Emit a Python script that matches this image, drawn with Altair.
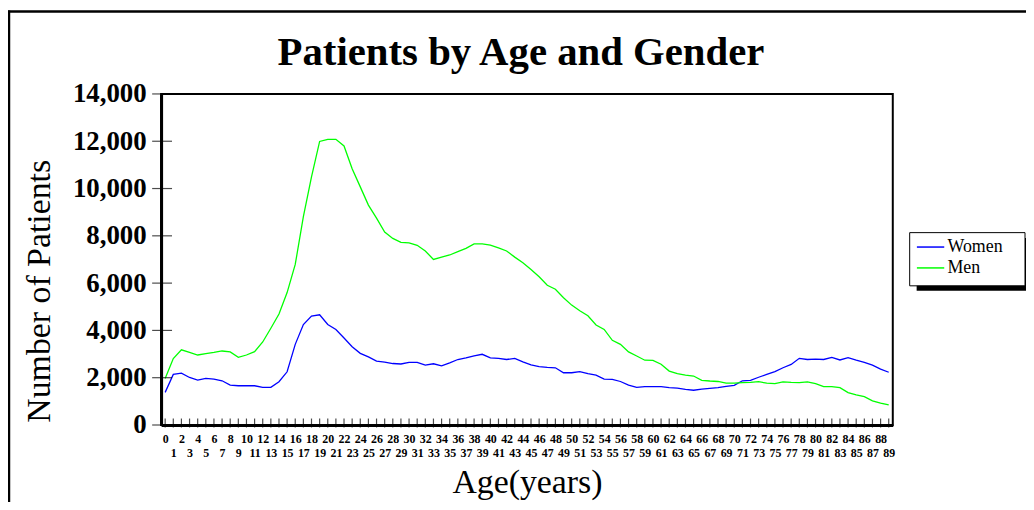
import altair as alt
import pandas as pd

ages = list(range(90))
women = [
    1380, 2140, 2190, 2010, 1900, 1970, 1940, 1870, 1690, 1660,
    1660, 1660, 1590, 1590, 1830, 2250, 3410, 4250, 4610, 4660,
    4250, 4040, 3680, 3310, 3030, 2880, 2700, 2660, 2600, 2580,
    2650, 2650, 2530, 2590, 2500, 2630, 2770, 2840, 2920, 2990,
    2840, 2820, 2770, 2820, 2670, 2540, 2470, 2440, 2420, 2210,
    2210, 2260, 2170, 2110, 1940, 1930, 1840, 1690, 1590, 1620,
    1620, 1620, 1580, 1560, 1510, 1470, 1520, 1550, 1580, 1630,
    1680, 1870, 1890, 2020, 2140, 2260, 2420, 2560, 2820, 2770,
    2790, 2770, 2860, 2750, 2850, 2740, 2650, 2530, 2360, 2230,
]
men = [
    1970, 2810, 3180, 3070, 2960, 3020, 3070, 3130, 3090, 2860,
    2960, 3100, 3510, 4090, 4690, 5600, 6790, 8810, 10490, 11990,
    12080, 12080, 11800, 10840, 10070, 9300, 8750, 8160, 7890, 7720,
    7700, 7600, 7360, 7000, 7100, 7190, 7330, 7470, 7660, 7660,
    7610, 7490, 7360, 7100, 6860, 6580, 6270, 5910, 5740, 5380,
    5070, 4830, 4620, 4230, 4040, 3580, 3410, 3090, 2920, 2740,
    2730, 2570, 2280, 2170, 2110, 2070, 1890, 1860, 1840, 1770,
    1770, 1790, 1800, 1830, 1770, 1750, 1820, 1800, 1790, 1820,
    1750, 1620, 1620, 1580, 1370, 1270, 1200, 1020, 920, 850,
]
series_names = ["Women", "Men"]
series_colors = ["#0000ff", "#00ff00"]
y_ticks = [0, 2000, 4000, 6000, 8000, 10000, 12000, 14000]
chart_title = "Patients by Age and Gender"
x_title = "Age(years)"
y_title = "Number of Patients"

W, H = 736, 333
SERIF = "Liberation Serif"

rows = []
for a, w, m in zip(ages, women, men):
    rows.append({"age": a, "gender": "Women", "count": w})
    rows.append({"age": a, "gender": "Men", "count": m})
df = pd.DataFrame(rows)
age_df = pd.DataFrame({"age": ages})
ytick_df = pd.DataFrame({"count": y_ticks})
one = pd.DataFrame({"k": [0]})

xscale = alt.Scale(domain=[-0.5, 89.5], nice=False, zero=False)
yscale = alt.Scale(domain=[0, 14000], nice=False)

x_axis = alt.Axis(values=ages, grid=False, ticks=False, tickSize=0,
                  domainColor="black", domainWidth=3,
                  labelFont=SERIF, labelFontWeight="bold", labelFontSize=12,
                  labelColor="black", labelOverlap=False, labelFlush=False,
                  labelPadding={"condition": {"test": "datum.value % 2 == 1", "value": 23}, "value": 9},
                  titleFont=SERIF, titleFontSize=34, titleFontWeight="normal",
                  titleColor="black", titleX=368, titleY=68,
                  titleAlign="center", titleBaseline="alphabetic")
y_axis = alt.Axis(values=y_ticks, labelExpr="format(datum.value, ',')",
                  grid=False, ticks=False, tickSize=0,
                  domainColor="black", domainWidth=3,
                  labelFont=SERIF, labelFontWeight="bold", labelFontSize=27,
                  labelColor="black", labelPadding=15, labelFlush=False,
                  titleFont=SERIF, titleFontSize=34, titleFontWeight="normal",
                  titleColor="black", titleAngle=270, titleX=-112, titleY=198,
                  titleAlign="center", titleBaseline="alphabetic")

X = alt.X("age:Q", scale=xscale, title=x_title, axis=x_axis)
Y = alt.Y("count:Q", scale=yscale, title=y_title, axis=y_axis)

lines = alt.Chart(df).mark_line(strokeWidth=1.3).encode(
    x=X, y=Y,
    color=alt.Color("gender:N",
                    scale=alt.Scale(domain=series_names, range=series_colors),
                    legend=alt.Legend(title=None, orient="none", legendX=762, legendY=142,
                                      padding=0, rowPadding=0,
                                      symbolType="M-1.25,0H1.25", symbolSize=484,
                                      symbolStrokeWidth=1.5, labelOffset=5,
                                      labelFont=SERIF, labelFontSize=18, labelColor="black")),
)

xticks = alt.Chart(age_df).mark_tick(color="black", thickness=1.2, size=9, orient="vertical").encode(
    x=X, y=alt.value(H - 2))

yticks = alt.Chart(ytick_df).mark_tick(color="black", thickness=1.2, size=20, orient="horizontal").encode(
    y=Y, x=alt.value(1))

shadow = alt.Chart(one).mark_rect(color="black").encode(
    x=alt.value(760), x2=alt.value(880), y=alt.value(145), y2=alt.value(198))
box = alt.Chart(one).mark_rect(fill="white", stroke="black", strokeWidth=1).encode(
    x=alt.value(753), x2=alt.value(869), y=alt.value(139.5), y2=alt.value(193))

frame_top = alt.Chart(one).mark_rule(color="black", strokeWidth=2.5).encode(
    x=alt.value(-154), x2=alt.value(880), y=alt.value(-83))
frame_left = alt.Chart(one).mark_rule(color="black", strokeWidth=2.5).encode(
    x=alt.value(-153), y=alt.value(-84), y2=alt.value(420))

title = alt.Chart(one).mark_text(font=SERIF, fontSize=41, fontWeight="bold", color="black",
                                 align="center", baseline="alphabetic").encode(
    text=alt.value(chart_title), x=alt.value(362), y=alt.value(-29))

chart = alt.layer(frame_top, frame_left, title, shadow, box, lines, xticks, yticks).properties(
    width=W, height=H,
    background="white",
    autosize=alt.AutoSizeParams(type="none"),
    padding={"left": 154, "top": 85, "right": 134, "bottom": 76},
).configure_view(stroke="black", strokeWidth=2)

chart.save("out.html", embed_options={"renderer": "svg", "actions": False})
